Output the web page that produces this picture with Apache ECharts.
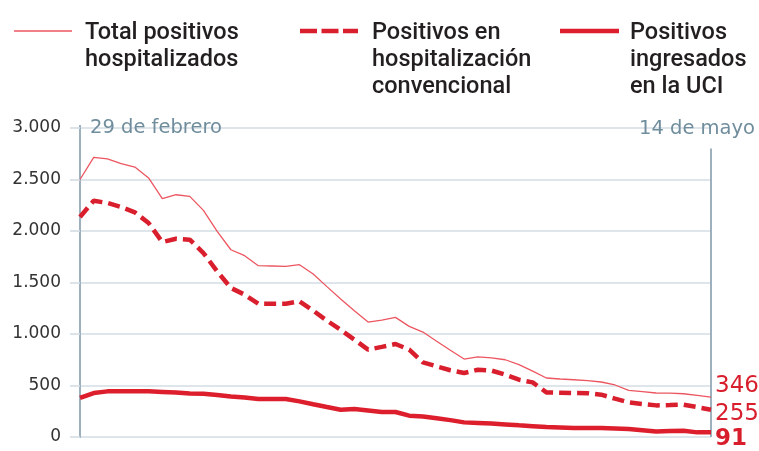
<!DOCTYPE html>
<html>
<head>
<meta charset="utf-8">
<script src="https://cdn.jsdelivr.net/npm/echarts@6/dist/echarts.min.js"></script>
<style>
html,body{margin:0;padding:0;background:#fff;}
#c{width:759px;height:451px;}
</style>
</head>
<body>
<div id="c"></div>
<script>
const days = ['29 mar','30 mar','31 mar','1 abr','2 abr','3 abr','4 abr','5 abr','6 abr','7 abr','8 abr','9 abr','10 abr','11 abr','12 abr','13 abr','14 abr','15 abr','16 abr','17 abr','18 abr','19 abr','20 abr','21 abr','22 abr','23 abr','24 abr','25 abr','26 abr','27 abr','28 abr','29 abr','30 abr','1 may','2 may','3 may','4 may','5 may','6 may','7 may','8 may','9 may','10 may','11 may','12 may','13 may','14 may'];
const total = [2500,2715,2700,2654,2621,2515,2314,2352,2336,2200,1996,1818,1760,1663,1660,1656,1673,1583,1460,1340,1225,1116,1135,1161,1074,1019,930,842,757,777,768,750,702,640,573,563,556,548,534,505,452,440,427,425,420,405,388];
const convencional = [2136,2294,2272,2233,2181,2078,1893,1925,1916,1786,1608,1447,1382,1294,1294,1294,1317,1227,1130,1040,945,848,875,903,848,724,686,648,621,653,645,605,556,530,433,430,427,425,411,372,336,320,307,310,314,290,265];
const uci = [379,427,443,443,445,443,438,432,422,420,408,394,384,369,369,369,346,318,291,265,272,258,243,243,207,200,182,164,142,136,130,122,113,105,97,92,87,87,87,83,78,66,54,58,61,45,45];
const endLabels = ['346','255','91'];
const yTicks = [0,500,1000,1500,2000,2500,3000];
const legendNames = ['Total positivos\nhospitalizados','Positivos en\nhospitalización\nconvencional','Positivos\ningresados\nen la UCI'];
const dateLabels = ['29 de febrero','14 de mayo'];

const fmt = v => String(v).replace(/\B(?=(\d{3})+(?!\d))/g, '.');
const chart = echarts.init(document.getElementById('c'));
const gridColor = '#d3dde4';
const legendFont = 'Roboto';
const legendText = t => ({text: t, fontFamily: legendFont, fontSize: 23.5, fontWeight: 500, lineHeight: 27, fill: '#231f20'});
chart.setOption({
  animation: false,
  grid: {left: 80, right: 48, top: 128, bottom: 14},
  xAxis: {
    type: 'category', data: days, boundaryGap: false,
    axisLine: {show: false}, axisTick: {show: false}, axisLabel: {show: false}, splitLine: {show: false}
  },
  yAxis: {
    type: 'value', min: yTicks[0], max: yTicks[yTicks.length-1], interval: 500,
    axisLine: {show: true, lineStyle: {color: '#9cb0bd', width: 2}},
    axisTick: {show: true, length: 10, lineStyle: {color: gridColor, width: 1.6}},
    splitLine: {lineStyle: {color: gridColor, width: 1.6}},
    axisLabel: {margin: 19, formatter: fmt, color: '#333333', fontFamily: 'DejaVu Sans', fontSize: 17}
  },
  series: [
    {
      name: 'Total positivos hospitalizados', type: 'line', data: total, symbol: 'none', z: 3,
      lineStyle: {color: '#ec5660', width: 1.3},
      endLabel: {show: true, formatter: endLabels[0], offset: [0, -11], distance: 4, color: '#d81e2c', fontFamily: 'DejaVu Sans', fontSize: 23},
      markLine: {
        silent: true, symbol: 'none', z: 1,
        lineStyle: {color: '#9cb0bd', width: 2, type: 'solid'},
        label: {show: false},
        data: [
          [{coord: [days[days.length-1], 2800]}, {coord: [days[days.length-1], 0]}]
        ]
      }
    },
    {
      name: 'Positivos en hospitalización convencional', type: 'line', data: convencional, symbol: 'none', z: 4,
      lineStyle: {color: '#d91f2d', width: 4.5, type: [12, 6]},
      endLabel: {show: true, formatter: endLabels[1], offset: [0, 4], distance: 4, color: '#d81e2c', fontFamily: 'DejaVu Sans', fontSize: 23}
    },
    {
      name: 'Positivos ingresados en la UCI', type: 'line', data: uci, symbol: 'none', z: 5,
      lineStyle: {color: '#dd1f2d', width: 4.5},
      endLabel: {show: true, formatter: endLabels[2], offset: [0, 7], distance: 4, color: '#d81e2c', fontFamily: 'DejaVu Sans', fontWeight: 'bold', fontSize: 23}
    }
  ],
  graphic: [
    {type: 'line', shape: {x1: 14, y1: 31, x2: 72, y2: 31}, style: {stroke: '#ec5660', lineWidth: 1.5}},
    {type: 'line', shape: {x1: 300, y1: 31, x2: 358, y2: 31}, style: {stroke: '#d91f2d', lineWidth: 4.5, lineDash: [17, 4.5]}},
    {type: 'line', shape: {x1: 560, y1: 31, x2: 619, y2: 31}, style: {stroke: '#dd1f2d', lineWidth: 4.5}},
    {type: 'text', left: 85, top: 20, style: legendText(legendNames[0])},
    {type: 'text', left: 372, top: 20, style: legendText(legendNames[1])},
    {type: 'text', left: 630, top: 20, style: legendText(legendNames[2])},
    {type: 'line', shape: {x1: 80, y1: 125, x2: 80, y2: 128}, style: {stroke: '#9cb0bd', lineWidth: 2}},
    {type: 'text', left: 90, top: 118, z: 10, style: {text: dateLabels[0], fontFamily: 'DejaVu Sans', fontSize: 19.5, fill: '#6f8d9c'}},
    {type: 'text', right: 4, top: 119, z: 10, style: {text: dateLabels[1], fontFamily: 'DejaVu Sans', fontSize: 19.5, fill: '#6f8d9c'}}
  ]
});
</script>
</body>
</html>
